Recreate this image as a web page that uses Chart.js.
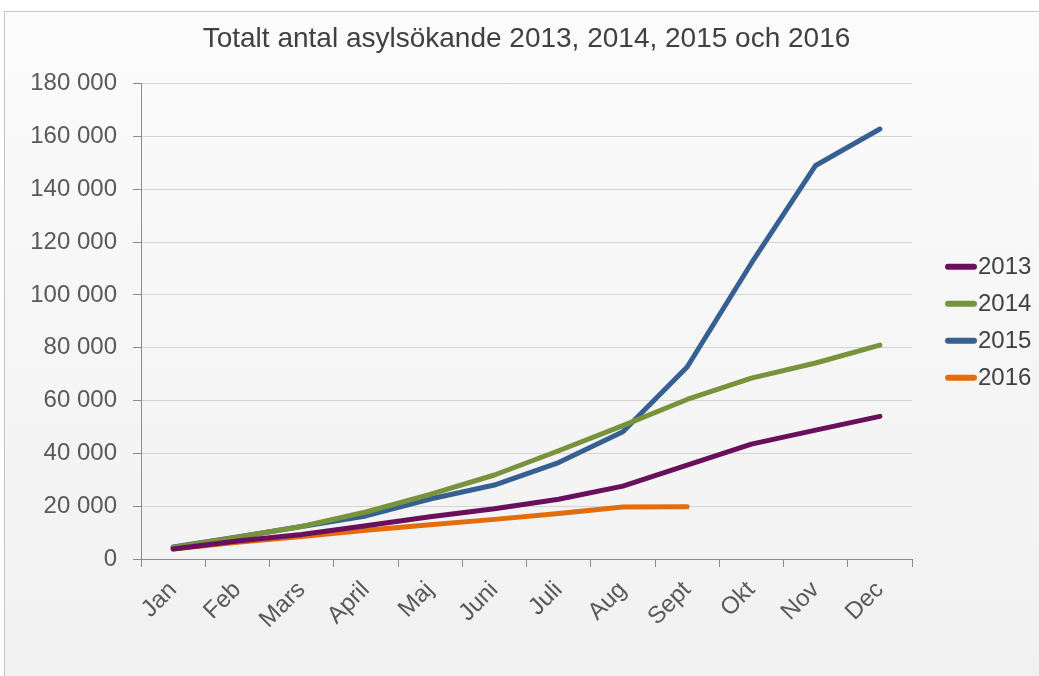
<!DOCTYPE html>
<html>
<head>
<meta charset="utf-8">
<script src="https://cdn.jsdelivr.net/npm/chart.js@4/dist/chart.umd.min.js"></script>
<style>
    body { margin: 0; background: #ffffff; }
    #wrap { position: relative; width: 1039px; height: 676px; overflow: hidden; }
    #frame {
        position: absolute; left: 4px; top: 11px; width: 1040px; height: 670px;
        border: 1px solid #c6c6c6;
        background: linear-gradient(#fbfbfb, #f1f1f1);
    }
    #chart { position: absolute; left: 0; top: 0; }
</style>
</head>
<body>
<div id="wrap">
    <div id="frame"></div>
    <canvas id="chart" width="1039" height="676"></canvas>
</div>
<script>
var months = ['Jan', 'Feb', 'Mars', 'April', 'Maj', 'Juni', 'Juli', 'Aug', 'Sept', 'Okt', 'Nov', 'Dec'];
var years = ['2013', '2014', '2015', '2016'];
var colors = ['#6a0f5b', '#77933c', '#376092', '#e46c0a'];

var values2013 = [3800, 6800, 9300, 12600, 16000, 19000, 22600, 27600, 35500, 43500, 48800, 54000];
var values2014 = [4400, 8200, 12300, 17800, 24500, 31800, 41000, 50500, 60400, 68500, 74200, 81000];
var values2015 = [4600, 8300, 12300, 16300, 22700, 28000, 36500, 48200, 72700, 112000, 149000, 162800];
var values2016 = [3800, 6300, 8500, 10900, 13000, 15000, 17200, 19700, 19800];

var font = 'Liberation Sans, Arial, sans-serif';

function spaced(v) {
    return String(v).replace(/\B(?=(\d{3})+(?!\d))/g, ' ');
}

var series = [values2013, values2014, values2015, values2016];
var datasets = series.map(function (vals, i) {
    return {
        label: years[i],
        data: vals,
        borderColor: colors[i],
        backgroundColor: colors[i],
        borderWidth: 5,
        borderCapStyle: 'round',
        borderJoinStyle: 'round',
        pointRadius: 0,
        tension: 0,
        fill: false
    };
});

// legend drawn to the right of the plot, line sample right against the text
var sideLegend = {
    id: 'sideLegend',
    afterDraw: function (chart) {
        var c = chart.ctx;
        var area = chart.chartArea;
        var n = chart.data.datasets.length;
        var step = 37;
        var mid = (area.top + area.bottom) / 2 + 1;
        var x0 = area.right + 36;
        c.save();
        c.font = '24px ' + font;
        c.textAlign = 'left';
        c.textBaseline = 'middle';
        chart.data.datasets.forEach(function (ds, i) {
            var y = mid + (i - (n - 1) / 2) * step;
            c.strokeStyle = ds.borderColor;
            c.lineWidth = 6;
            c.lineCap = 'round';
            c.beginPath();
            c.moveTo(x0, y);
            c.lineTo(x0 + 26, y);
            c.stroke();
            c.fillStyle = '#404040';
            c.fillText(ds.label, x0 + 30, y + 1);
        });
        c.restore();
    }
};

var ctx = document.getElementById('chart').getContext('2d');
var chart = new Chart(ctx, {
    type: 'line',
    data: { labels: months, datasets: datasets },
    plugins: [sideLegend],
    options: {
        responsive: false,
        animation: false,
        layout: { padding: { left: 0, right: 127, top: 0, bottom: 0 } },
        plugins: {
            title: {
                display: true,
                fullSize: false,
                text: 'Totalt antal asylsökande 2013, 2014, 2015 och 2016',
                color: '#404040',
                font: { family: font, size: 28, weight: 'normal' },
                padding: { top: 22, bottom: 28 }
            },
            legend: { display: false },
            tooltip: { enabled: false }
        },
        scales: {
            x: {
                offset: true,
                afterFit: function (scale) { scale.height = 117; },
                grid: {
                    offset: true,
                    drawOnChartArea: false,
                    drawTicks: true,
                    tickLength: 8,
                    tickColor: '#8c8c8c'
                },
                border: { color: '#8c8c8c', width: 1 },
                ticks: {
                    color: '#595959',
                    font: { family: font, size: 24 },
                    maxRotation: 45,
                    minRotation: 45,
                    padding: 9
                }
            },
            y: {
                min: 0,
                max: 180000,
                afterFit: function (scale) { scale.width = 141; },
                grid: {
                    color: '#d4d4d4',
                    lineWidth: 1,
                    tickLength: 8,
                    tickColor: '#8c8c8c'
                },
                border: { color: '#8c8c8c', width: 1 },
                ticks: {
                    stepSize: 20000,
                    color: '#595959',
                    font: { family: font, size: 24 },
                    padding: 16,
                    callback: function (v) { return spaced(v); }
                }
            }
        }
    }
});
</script>
</body>
</html>
